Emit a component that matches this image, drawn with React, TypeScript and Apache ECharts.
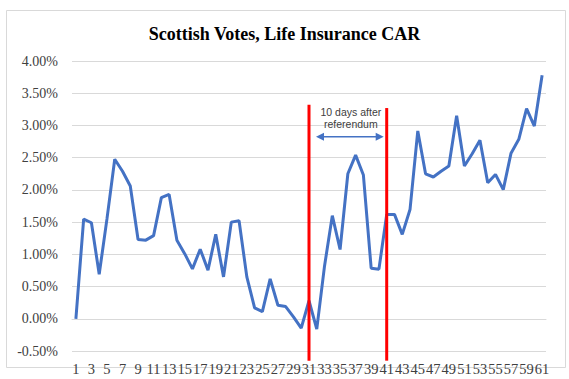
import React, { useEffect, useRef } from "react";
import * as echarts from "echarts";

const titleText = "Scottish Votes, Life Insurance CAR";
const categories: string[] = Array.from({ length: 61 }, (_, i) => String(i + 1));
const carValues: number[] = [
  0.0, 1.545, 1.49, 0.69, 1.55, 2.475, 2.29, 2.06, 1.23, 1.22,
  1.29, 1.88, 1.93, 1.22, 1.01, 0.775, 1.08, 0.755, 1.31, 0.65,
  1.5, 1.52, 0.65, 0.17, 0.11, 0.62, 0.21, 0.19, 0.03, -0.145,
  0.28, -0.16, 0.82, 1.6, 1.075, 2.25, 2.54, 2.23, 0.785, 0.77,
  1.62, 1.62, 1.31, 1.695, 2.915, 2.25, 2.2, 2.29, 2.37, 3.15,
  2.37, 2.56, 2.77, 2.11, 2.24, 2.005, 2.57, 2.785, 3.26, 2.99,
  3.78,
];
const eventDays: string[] = ["31", "41"];
const eventTops: number[] = [3.32, 3.27];
const eventBottom = -0.65;
const annotationLines: string[] = ["10 days after", "referendum"];

export default function App() {
  const ref = useRef<HTMLDivElement>(null);
  useEffect(() => {
    if (!ref.current) return;
    const chart = echarts.init(ref.current, null, { renderer: "svg" });
    const serif = "Liberation Serif";
    chart.setOption({
      animation: false,
      backgroundColor: "#ffffff",
      textStyle: { fontFamily: serif },
      title: {
        text: titleText,
        left: "center",
        top: 25,
        padding: 0,
        textStyle: { fontFamily: serif, fontSize: 18, fontWeight: "bold", color: "#000000" },
      },
      grid: { left: 72, right: 23, top: 61, bottom: 28 },
      xAxis: {
        type: "category",
        data: categories,
        boundaryGap: true,
        axisLine: { onZero: true, lineStyle: { color: "#D9D9D9", width: 1 } },
        axisTick: { show: false },
        axisLabel: {
          interval: 1,
          hideOverlap: false,
          fontFamily: serif,
          fontSize: 14.5,
          color: "#404040",
          margin: 10,
        },
        splitLine: { show: false },
      },
      yAxis: {
        type: "value",
        min: -0.5,
        max: 4,
        interval: 0.5,
        axisLine: { show: false },
        axisTick: { show: false },
        axisLabel: {
          fontFamily: serif,
          fontSize: 14,
          color: "#404040",
          margin: 14,
          formatter: (v: number) => v.toFixed(2) + "%",
        },
        splitLine: { lineStyle: { color: "#D9D9D9", width: 1 } },
      },
      series: [
        {
          type: "line",
          data: carValues,
          showSymbol: false,
          symbol: "none",
          lineStyle: { color: "#4472C4", width: 3 },
          itemStyle: { color: "#4472C4" },
        },
      ],
    });

    const toPx = (cat: string, v: number) =>
      chart.convertToPixel({ gridIndex: 0 }, [cat, v]) as number[];
    const redLines = eventDays.map((d, i) => {
      const top = toPx(d, eventTops[i]);
      const bot = toPx(d, eventBottom);
      return { x: top[0], y1: top[1], y2: bot[1] };
    });
    const ax1 = redLines[0].x + 7;
    const ax2 = redLines[1].x - 3;
    const ay = redLines[0].y1 + 32;
    const cx = (redLines[0].x + redLines[1].x) / 2 + 3;
    const blue = "#4472C4";
    const graphics: any[] = [
      {
        type: "rect",
        shape: { x: 6.5, y: 10.5, width: 559, height: 357 },
        style: { fill: "none", stroke: "#D9D9D9", lineWidth: 1 },
        silent: true,
        z: 0,
      },
      ...redLines.map((l) => ({
        type: "line",
        shape: { x1: l.x, y1: l.y1, x2: l.x, y2: l.y2 },
        style: { stroke: "#FF0000", lineWidth: 3 },
        z: 100,
      })),
      {
        type: "line",
        shape: { x1: ax1 + 4, y1: ay, x2: ax2 - 4, y2: ay },
        style: { stroke: blue, lineWidth: 1.5 },
        z: 100,
      },
      {
        type: "polygon",
        shape: { points: [[ax1, ay], [ax1 + 8, ay - 4], [ax1 + 8, ay + 4]] },
        style: { fill: blue },
        z: 100,
      },
      {
        type: "polygon",
        shape: { points: [[ax2, ay], [ax2 - 8, ay - 4], [ax2 - 8, ay + 4]] },
        style: { fill: blue },
        z: 100,
      },
      ...annotationLines.map((t, i) => ({
        type: "text",
        x: cx,
        y: redLines[0].y1 + 7 + i * 12.5,
        style: {
          text: t,
          fill: "#404040",
          fontFamily: "Liberation Sans",
          fontSize: 10.5,
          align: "center",
          verticalAlign: "middle",
        },
        z: 100,
      })),
    ];
    chart.setOption({ graphic: graphics });
    return () => chart.dispose();
  }, []);
  return (
    <div
      ref={ref}
      style={{ position: "absolute", left: 0, top: 0, width: 569, height: 379 }}
    />
  );
}
